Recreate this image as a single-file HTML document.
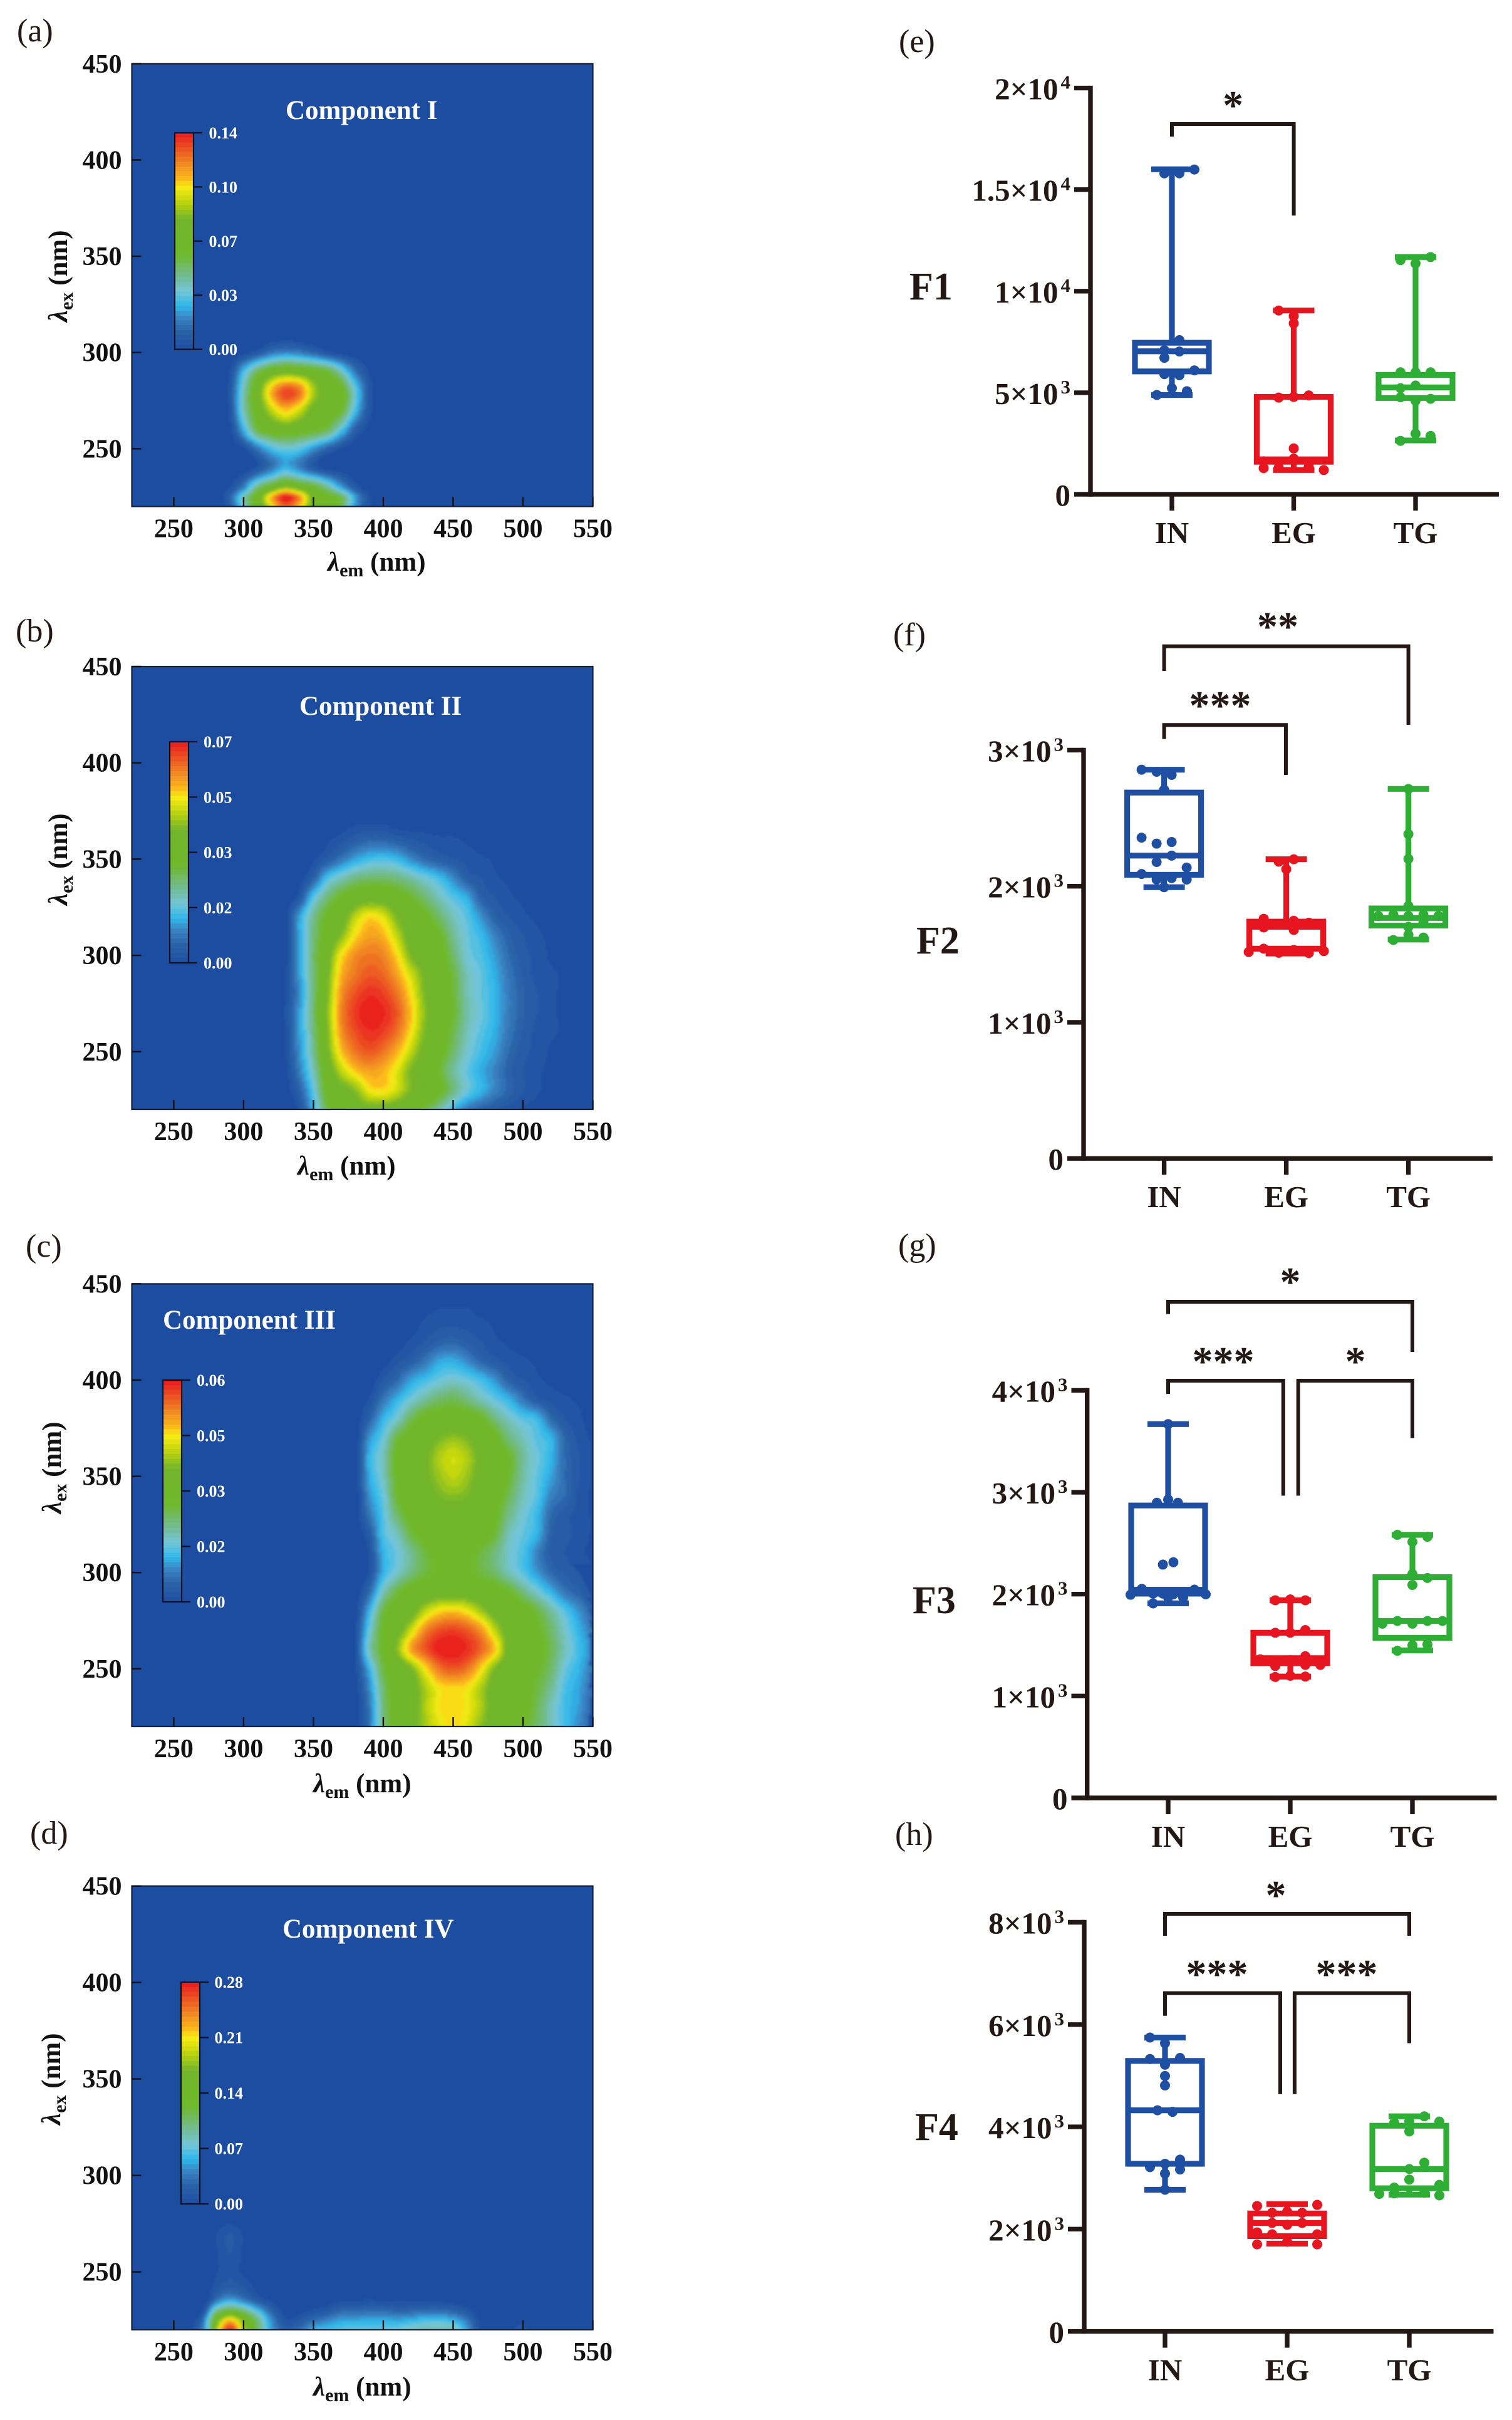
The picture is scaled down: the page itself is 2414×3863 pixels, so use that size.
<!DOCTYPE html>
<html lang="en">
<head>
<meta charset="utf-8">
<title>Fluorescence components and box plots</title>
<style>
html,body{margin:0;padding:0;background:#fff;}
svg{display:block;font-family:"Liberation Serif",serif;}
.plab{font-size:52px;fill:#231815;}
.ctitle{font-size:43px;font-weight:700;fill:#fff;}
.axt{font-size:43px;font-weight:700;fill:#111;}
.fl{font-size:62px;font-weight:700;fill:#231815;}
.star{font-size:66px;font-weight:700;fill:#231815;text-anchor:middle;}
.br{fill:none;stroke:#231815;stroke-width:6;}
</style>
</head>
<body>
<svg id="fig" xmlns="http://www.w3.org/2000/svg" width="2414" height="3863" viewBox="0 0 2414 3863">
<rect width="2414" height="3863" fill="#fff"/>

<text class="plab" x="27" y="66">(a)</text>
<text class="plab" x="25" y="1024">(b)</text>
<text class="plab" x="41" y="2006">(c)</text>
<text class="plab" x="48" y="2943">(d)</text>
<text class="plab" x="1435" y="83">(e)</text>
<text class="plab" x="1426" y="1030">(f)</text>
<text class="plab" x="1434" y="2005">(g)</text>
<text class="plab" x="1429" y="2945">(h)</text>

<g id="contourA"></g>
<g id="contourB"></g>
<g id="contourC"></g>
<g id="contourD"></g>

<text class="ctitle" x="456" y="190">Component I</text>
<text class="ctitle" x="478" y="1141">Component II</text>
<text class="ctitle" x="260" y="2121">Component III</text>
<text class="ctitle" x="451" y="3093">Component IV</text>

<text class="axt" x="523" y="911"><tspan font-style="italic">λ</tspan><tspan font-size="30" dy="9">em</tspan><tspan dy="-9"> (nm)</tspan></text>
<text class="axt" x="475" y="1875"><tspan font-style="italic">λ</tspan><tspan font-size="30" dy="9">em</tspan><tspan dy="-9"> (nm)</tspan></text>
<text class="axt" x="500" y="2861"><tspan font-style="italic">λ</tspan><tspan font-size="30" dy="9">em</tspan><tspan dy="-9"> (nm)</tspan></text>
<text class="axt" x="500" y="3824"><tspan font-style="italic">λ</tspan><tspan font-size="30" dy="9">em</tspan><tspan dy="-9"> (nm)</tspan></text>

<text class="axt" transform="translate(107 514) rotate(-90)"><tspan font-style="italic">λ</tspan><tspan font-size="30" dy="9">ex</tspan><tspan dy="-9"> (nm)</tspan></text>
<text class="axt" transform="translate(107 1445) rotate(-90)"><tspan font-style="italic">λ</tspan><tspan font-size="30" dy="9">ex</tspan><tspan dy="-9"> (nm)</tspan></text>
<text class="axt" transform="translate(97 2416) rotate(-90)"><tspan font-style="italic">λ</tspan><tspan font-size="30" dy="9">ex</tspan><tspan dy="-9"> (nm)</tspan></text>
<text class="axt" transform="translate(96 3392) rotate(-90)"><tspan font-style="italic">λ</tspan><tspan font-size="30" dy="9">ex</tspan><tspan dy="-9"> (nm)</tspan></text>

<g id="boxF1"></g>
<g id="boxF2"></g>
<g id="boxF3"></g>
<g id="boxF4"></g>

<text class="fl" x="1452" y="478">F1</text>
<text class="fl" x="1463" y="1522">F2</text>
<text class="fl" x="1457" y="2575">F3</text>
<text class="fl" x="1461" y="3416">F4</text>

<path class="br" d="M1871 218V198H2065.6V344"/>
<text class="star" x="1968.6" y="190">*</text>

<path class="br" d="M1858.6 1071V1031.6H2248.6V1157"/>
<path class="br" d="M1858.6 1179.6V1157.3H2053V1237"/>
<text class="star" x="2040" y="1022">**</text>
<text class="star" x="1948" y="1148">***</text>

<path class="br" d="M1865 2097.5V2078H2255V2158"/>
<path class="br" d="M1865 2225V2204H2048.8V2387.5"/>
<path class="br" d="M2072.7 2387.5V2204H2255V2295.6"/>
<text class="star" x="2060" y="2068">*</text>
<text class="star" x="1953" y="2195">***</text>
<text class="star" x="2164" y="2195">*</text>

<path class="br" d="M1860 3090V3055H2250V3090"/>
<path class="br" d="M1860 3217.7V3181.6H2044V3342.7"/>
<path class="br" d="M2066.9 3342.7V3181.6H2250V3261.5"/>
<text class="star" x="2037" y="3047">*</text>
<text class="star" x="1943" y="3173">***</text>
<text class="star" x="2150" y="3173">***</text>
</svg>

<script>
/* ---------- contour data: values are percent of each colour-bar maximum ---------- */
const emTicks = [250,300,350,400,450,500,550];
const exTicks = [250,300,350,400,450];

const cbarLabelsA = ['0.00','0.03','0.07','0.10','0.14'];
const cbarLabelsB = ['0.00','0.02','0.03','0.05','0.07'];
const cbarLabelsC = ['0.00','0.02','0.03','0.05','0.06'];
const cbarLabelsD = ['0.00','0.07','0.14','0.21','0.28'];

const emGridA = [220,280,290,300,310,320,330,340,350,360,370,380,390,400,550];
const exGridA = [220,225,230,240,250,260,270,280,290,300,310,450];
const valuesA = [
[0,0,5,28,50,72,88,78,55,48,40,16,3,0,0],
[0,0,8,30,52,80,100,85,56,48,40,18,3,0,0],
[0,0,2,14,36,50,62,54,46,34,18,5,0,0,0],
[0,0,0,0,4,12,20,14,6,1,0,0,0,0,0],
[0,0,0,2,12,22,26,24,16,8,2,0,0,0,0],
[0,0,1,20,42,50,53,50,46,40,24,7,1,0,0],
[0,0,3,30,50,68,78,70,56,50,44,22,4,0,0],
[0,0,4,30,54,80,94,88,66,54,48,26,5,0,0],
[0,0,2,22,40,52,57,55,50,44,30,12,2,0,0],
[0,0,0,1,5,12,15,13,9,4,1,0,0,0,0],
[0,0,0,0,0,0,0,0,0,0,0,0,0,0,0],
[0,0,0,0,0,0,0,0,0,0,0,0,0,0,0]];

const emGridB = [220,320,330,340,350,360,370,380,390,400,410,420,430,440,450,460,470,480,490,500,510,520,530,540,550];
const exGridB = [220,230,240,250,260,270,280,290,300,310,320,330,340,350,360,370,450];
const valuesB = [
[0,0,0,3,20,42,50,54,56,55,52,50,42,32,20,12,8,5,3,2,1,0,0,0,0],
[0,0,1,8,25,48,56,62,74,76,70,60,55,47,36,26,20,14,9,5,3,1,0,0,0],
[0,0,1,13,30,52,68,78,82,80,72,60,54,44,33,25,19,14,8,5,3,2,1,0,0],
[0,0,2,16,34,58,78,88,92,88,80,68,56,48,38,28,22,17,10,6,4,2,1,1,0],
[0,0,2,17,36,60,84,93,97,95,88,75,60,51,41,30,24,19,12,7,4,3,2,1,0],
[0,0,3,17,38,62,86,96,100,98,92,78,62,52,44,32,26,20,13,8,5,3,2,1,0],
[0,0,2,16,37,60,84,93,97,95,88,75,60,52,43,31,25,20,13,8,5,3,2,1,0],
[0,0,2,17,37,58,80,88,92,90,82,70,58,50,42,30,25,19,12,7,4,3,2,1,0],
[0,0,1,18,38,55,75,85,88,86,76,60,54,49,38,27,23,17,10,6,4,2,1,1,0],
[0,0,1,19,36,50,62,76,82,80,68,55,52,46,34,26,21,14,8,5,3,2,1,0,0],
[0,0,1,18,34,46,54,68,76,72,60,53,47,38,30,24,16,8,5,3,2,1,0,0,0],
[0,0,0,5,24,37,46,52,55,54,50,44,37,30,24,19,8,5,3,2,1,1,0,0,0],
[0,0,0,1,8,23,30,36,38,38,36,32,27,22,15,7,5,3,2,1,1,0,0,0,0],
[0,0,0,0,2,6,12,18,22,23,21,15,10,7,5,4,3,2,1,1,0,0,0,0,0],
[0,0,0,0,0,2,4,7,9,9,7,5,4,3,3,2,1,1,0,0,0,0,0,0,0],
[0,0,0,0,0,0,1,2,2,2,1,1,1,1,0,0,0,0,0,0,0,0,0,0,0],
[0,0,0,0,0,0,0,0,0,0,0,0,0,0,0,0,0,0,0,0,0,0,0,0,0]];

const emGridC = [220,370,380,390,400,410,420,430,440,450,460,470,480,490,500,510,520,530,540,550];
const exGridC = [220,230,240,250,260,270,280,290,300,310,320,330,340,350,360,370,380,390,400,410,420,430,440,450];
const valuesC = [
[0,0,0,12,36,50,55,65,72,76,72,62,55,50,45,38,30,22,15,8],
[0,0,0,12,36,50,55,66,75,77,74,66,55,52,48,40,30,22,17,8],
[0,0,1,15,38,50,55,66,75,77,75,66,55,52,48,42,34,23,18,10],
[0,0,2,20,42,50,60,75,88,92,88,76,60,52,50,45,38,26,20,12],
[0,0,3,30,46,62,82,92,99,100,97,90,78,56,52,48,40,30,22,14],
[0,0,2,26,46,55,70,86,93,95,92,84,68,55,52,46,38,28,20,12],
[0,0,1,20,42,50,55,68,76,78,74,65,56,52,50,42,33,24,16,8],
[0,0,0,10,30,42,50,52,54,55,54,52,50,45,36,28,20,12,8,4],
[0,0,0,3,20,28,36,42,46,48,46,42,38,30,24,17,10,7,5,3],
[0,0,0,3,20,26,34,42,47,50,47,42,36,28,23,14,7,5,3,2],
[0,0,0,6,23,30,42,48,51,52,51,48,43,30,25,20,8,6,4,2],
[0,0,0,12,24,38,47,50,53,54,53,50,46,35,27,21,10,6,4,2],
[0,0,0,16,26,44,50,53,60,62,60,52,48,40,30,24,14,10,4,2],
[0,0,0,19,29,46,52,58,64,68,64,56,50,44,32,25,18,10,5,2],
[0,0,0,20,30,47,53,58,66,70,66,57,50,45,33,26,20,10,5,2],
[0,0,0,16,26,42,50,54,60,63,60,53,47,36,30,24,20,9,4,2],
[0,0,0,8,20,28,40,48,50,50,50,46,36,29,24,21,10,5,3,1],
[0,0,0,3,12,20,27,33,38,40,36,30,25,20,12,6,4,3,2,1],
[0,0,0,0,5,10,18,22,26,28,26,22,16,8,5,3,2,1,0,0],
[0,0,0,0,1,4,7,12,18,19,15,9,6,4,3,2,1,0,0,0],
[0,0,0,0,0,1,3,5,8,9,7,5,3,2,1,0,0,0,0,0],
[0,0,0,0,0,0,1,3,4,4,4,3,2,1,0,0,0,0,0,0],
[0,0,0,0,0,0,0,1,2,2,2,1,1,0,0,0,0,0,0,0],
[0,0,0,0,0,0,0,0,0,0,0,0,0,0,0,0,0,0,0,0]];

const emGridD = [220,260,270,275,280,290,300,310,320,330,340,350,360,370,380,390,400,410,420,430,440,450,460,470,480,490,500,510,550];
const exGridD = [220,225,230,235,240,250,260,270,280,450];
const valuesD = [
[0,0,12,30,62,100,66,40,18,6,10,20,22,24,25,25,25,27,30,32,33,32,18,1,0,2,3,1,0],
[0,0,8,28,52,78,58,36,15,3,5,10,14,18,18,19,19,18,20,22,22,20,12,1,0,1,2,0,0],
[0,0,1,14,32,44,36,22,8,1,1,3,5,9,9,10,10,8,9,10,10,8,4,0,0,0,0,0,0],
[0,0,0,3,12,20,14,6,2,0,0,0,1,2,2,3,2,2,2,2,2,1,0,0,0,0,0,0,0],
[0,0,0,1,5,9,6,2,0,0,0,0,0,0,0,0,0,0,0,0,0,0,0,0,0,0,0,0,0],
[0,0,0,0,2,4,2,1,0,0,0,0,0,0,0,0,0,0,0,0,0,0,0,0,0,0,0,0,0],
[0,0,0,0,2,5,2,0,0,0,0,0,0,0,0,0,0,0,0,0,0,0,0,0,0,0,0,0,0],
[0,0,0,0,2,5,2,0,0,0,0,0,0,0,0,0,0,0,0,0,0,0,0,0,0,0,0,0,0],
[0,0,0,0,0,0,0,0,0,0,0,0,0,0,0,0,0,0,0,0,0,0,0,0,0,0,0,0,0],
[0,0,0,0,0,0,0,0,0,0,0,0,0,0,0,0,0,0,0,0,0,0,0,0,0,0,0,0,0]];

/* ---------- box-plot data ---------- */
const categories = ['IN','EG','TG'];

const f1Ticks = [0,5000,10000,15000,20000];
const f1TickMant = ['0','5×10','1×10','1.5×10','2×10'];
const f1TickExp = ['','3','4','4','4'];
const f1InBox = [4890,6050,7040,7460,16000];
const f1EgBox = [1194,1600,1720,4795,9050];
const f1TgBox = [2650,4740,5262,5878,11680];
const f1InDots = [15990,15800,15800,7590,7090,7030,6720,5915,5860,6100,5225,5075,4890];
const f1InCols = [3,-1,1,1,-1,1,-1,-1,1,3,0,2,-2];
const f1EgDots = [9050,8770,8415,4760,4795,4870,2258,1623,1754,1343,1306,1287,1194];
const f1EgCols = [-2,0,0,-2,0,2,0,-4,0,2,-2,-4,4];
const f1TgDots = [11680,11530,11364,6008,6008,6008,5225,5355,4777,4700,4609,2985,2874,2631];
const f1TgCols = [2,-2,0,-2,0,2,-2,0,-2,2,0,0,2,-2];

const f2Ticks = [0,1000,2000,3000];
const f2TickMant = ['0','1×10','2×10','3×10'];
const f2TickExp = ['','3','3','3'];
const f2InBox = [1993,2084,2225,2688,2856];
const f2EgBox = [1506,1541,1702,1740,2198];
const f2TgBox = [1608,1711,1767,1837,2715];
const f2InDots = [2856,2841,2818,2709,2357,2313,2325,2225,2178,2137,2090,2049,2060,2049,1993];
const f2InCols = [-3,-1,1,0,-3,-1,1,1,-1,3,-3,-1,1,3,0];
const f2EgDots = [2181,2198,2125,1761,1697,1746,1679,1732,1517,1541,1511,1532,1509,1523];
const f2EgCols = [-1,1,0,-3,-3,1,1,3,-5,-3,-1,1,3,5];
const f2TgDots = [2715,2383,2201,1855,1781,1790,1781,1790,1781,1738,1702,1623,1644,1605];
const f2TgCols = [0,0,0,0,-4,-2,0,2,4,2,0,2,0,-2];

const f3Ticks = [0,1000,2000,3000,4000];
const f3TickMant = ['0','1×10','2×10','3×10','4×10'];
const f3TickExp = ['','3','3','3','3'];
const f3InBox = [1910,2005,2044,2870,3669];
const f3EgBox = [1191,1322,1372,1621,1940];
const f3TgBox = [1448,1571,1737,2167,2582];
const f3InDots = [3669,2897,2928,2897,2313,2290,1994,2052,2005,2005,1998,1967,2044,1998,1909,1967];
const f3InCols = [0,-1.5,0,1.3,0.7,-0.7,-5,-3.5,-2,-0.7,0.7,2,3.5,5,-2,0];
const f3EgDots = [1940,1948,1940,1621,1621,1648,1360,1352,1391,1295,1306,1306,1187,1199,1191];
const f3EgCols = [-2,0,2,-2,0,2,-4,0,2,-2,2,4,-2,0,2];
const f3TgDots = [2582,2563,2513,2198,2159,2090,1710,1737,1710,1737,1737,1498,1506,1444];
const f3TgCols = [-2,2,0,0,2,0,-4,-2,0,2,4,0,2,-2];

const f4Ticks = [0,2000,4000,6000,8000];
const f4TickMant = ['0','2×10','4×10','6×10','8×10'];
const f4TickExp = ['','3','3','3','3'];
const f4InBox = [2770,3278,4324,5289,5746];
const f4EgBox = [1716,1864,2121,2306,2490];
const f4TgBox = [2674,2799,3175,4022,4206];
const f4InDots = [5746,5635,5326,5348,5215,4994,4810,4324,4294,3359,3278,3212,3167,3086,2770];
const f4InCols = [-2,0,-2,2,0,0,0,-1,1,2,0,-2,2,0,0];
const f4EgDots = [2453,2475,2320,2342,2320,2085,2121,2121,1937,1900,1900,1702,1702,1753];
const f4EgCols = [-4,4,-2,0,2,0,2,-2,-4,-2,4,-4,4,0];
const f4TgDots = [4080,4110,4206,4103,3911,3300,3175,2969,2814,2866,2689,2711,2700,2660];
const f4TgCols = [-2,0,2,4,0,2,0,0,-2,4,-4,2,-2,4];

/* ---------- shared helpers ---------- */
const NS = 'http://www.w3.org/2000/svg';
function make(parent, tag, attrs, text) {
  const n = document.createElementNS(NS, tag);
  for (const k in attrs) n.setAttribute(k, attrs[k]);
  if (text !== undefined) n.textContent = text;
  parent.appendChild(n);
  return n;
}

/* colormap: fraction of the colour bar -> colour */
const cmapPos = [0,0.084,0.15,0.2,0.267,0.354,0.44,0.6,0.68,0.75,0.79,0.855,1];
const cmapRgb = [[31,78,161],[42,98,168],[60,134,196],[44,184,236],[116,198,216],[114,186,131],[111,185,43],[114,181,44],[190,212,14],[249,236,20],[251,184,26],[240,138,36],[232,25,31]];
function cmap(f) {
  let i = 0;
  while (i < cmapPos.length - 2 && f > cmapPos[i + 1]) i++;
  const t = Math.min(1, Math.max(0, (f - cmapPos[i]) / (cmapPos[i + 1] - cmapPos[i])));
  const c = cmapRgb[i].map((a, k) => Math.round(a + (cmapRgb[i + 1][k] - a) * t));
  return 'rgb(' + c.join(',') + ')';
}

function hermite(xs, ys, x) {
  const n = xs.length;
  if (x <= xs[0]) return ys[0];
  if (x >= xs[n - 1]) return ys[n - 1];
  let i = 0;
  while (x > xs[i + 1]) i++;
  const h = xs[i + 1] - xs[i], t = (x - xs[i]) / h;
  const m0 = i === 0 ? (ys[1] - ys[0]) / h : (ys[i + 1] - ys[i - 1]) / (xs[i + 1] - xs[i - 1]);
  const m1 = i === n - 2 ? (ys[i + 1] - ys[i]) / h : (ys[i + 2] - ys[i]) / (xs[i + 2] - xs[i]);
  const t2 = t * t, t3 = t2 * t;
  return (2 * t3 - 3 * t2 + 1) * ys[i] + (t3 - 2 * t2 + t) * h * m0 + (-2 * t3 + 3 * t2) * ys[i + 1] + (t3 - t2) * h * m1;
}

/* ---------- contour panels ---------- */
const LEVELS = 40;
const CELL = 3;
const DOMAIN_EM = [220, 550];
const DOMAIN_EX = [220, 450];

function drawContour(id, box, bar, emGrid, exGrid, values, cbarLabels) {
  const g = document.getElementById(id);
  const xs = v => box.x + (v - DOMAIN_EM[0]) / (DOMAIN_EM[1] - DOMAIN_EM[0]) * box.w;
  const ys = v => box.y + box.h - (v - DOMAIN_EX[0]) / (DOMAIN_EX[1] - DOMAIN_EX[0]) * box.h;
  const emOf = px => DOMAIN_EM[0] + (px - box.x) / box.w * (DOMAIN_EM[1] - DOMAIN_EM[0]);
  const exOf = py => DOMAIN_EX[0] + (box.y + box.h - py) / box.h * (DOMAIN_EX[1] - DOMAIN_EX[0]);

  const defs = make(g, 'defs', {});
  const clip = make(defs, 'clipPath', {id: id + 'Clip'});
  make(clip, 'rect', {x: box.x, y: box.y, width: box.w, height: box.h});
  const filt = make(defs, 'filter', {id: id + 'Blur', filterUnits: 'userSpaceOnUse', x: box.x - 12, y: box.y - 12, width: box.w + 24, height: box.h + 24});
  make(filt, 'feGaussianBlur', {stdDeviation: 2.2});

  const clipGroup = make(g, 'g', {'clip-path': 'url(#' + id + 'Clip)'});
  
  
  const heat = make(clipGroup, 'g', {filter: 'url(#' + id + 'Blur)', 'shape-rendering': 'crispEdges'});
  const bg = make(heat, 'rect', {x: box.x - 12, y: box.y - 12, width: box.w + 24, height: box.h + 24, fill: cmap(0)});
  
  

  const bands = new Array(LEVELS).fill('');
  for (let py = box.y - 9; py < box.y + box.h + 9; py += CELL) {
    const ex = exOf(py + CELL / 2);
    const column = emGrid.map((_, c) => hermite(exGrid, values.map(r => r[c]), ex));
    let runStart = null, runLevel = 0;
    for (let px = box.x - 9; px <= box.x + box.w + 9; px += CELL) {
      const inside = px < box.x + box.w + 9;
      const v = inside ? Math.max(0, hermite(emGrid, column, emOf(px + CELL / 2))) : 0;
      const level = inside ? Math.min(LEVELS - 1, Math.floor(v / 100 * LEVELS)) : 0;
      if (level !== runLevel) {
        if (runLevel > 0) bands[runLevel] += 'M' + runStart.toFixed(1) + ' ' + py.toFixed(1) + 'h' + (px - runStart).toFixed(0) + 'v' + CELL + 'h-' + (px - runStart).toFixed(0) + 'z';
        runStart = px;
        runLevel = level;
      }
    }
  }
  bands.forEach((d, i) => {
    if (!d) return;
    const band = make(heat, 'path', {d: d, fill: cmap((i + 0.5) / LEVELS)});
    
    
  });

  const frame = make(g, 'rect', {x: box.x, y: box.y, width: box.w, height: box.h, fill: 'none', stroke: '#14213d', 'stroke-width': 2.2});
  
  

  emTicks.forEach(t => {
    const tick = make(g, 'line', {x1: xs(t), x2: xs(t), y1: box.y + box.h, y2: box.y + box.h - 15, stroke: '#111', 'stroke-width': 2.4});
    
    
    const label = make(g, 'text', {x: xs(t), y: box.y + box.h + 49, 'text-anchor': 'middle', 'font-size': 42, 'font-weight': 700, fill: '#111'}, String(t));
    
    
  });
  exTicks.forEach(t => {
    const tick = make(g, 'line', {x1: box.x, x2: box.x + 15, y1: ys(t), y2: ys(t), stroke: '#111', 'stroke-width': 2.4});
    
    
    const label = make(g, 'text', {x: box.x - 16, y: ys(t) + 14, 'text-anchor': 'end', 'font-size': 42, 'font-weight': 700, fill: '#111'}, String(t));
    
    
  });

  /* colour bar */
  const cb = make(g, 'g', {});
  
  
  const barBands = make(cb, 'g', {'shape-rendering': 'crispEdges'});
  for (let i = 0; i < 45; i++) {
    const top = bar.y + bar.h * i / 45;
    const swatch = make(barBands, 'rect', {x: bar.x, y: top, width: bar.w, height: bar.h / 45 + 0.6, fill: cmap(1 - (i + 0.5) / 45)});
    
    
  }
  const barFrame = make(cb, 'rect', {x: bar.x, y: bar.y, width: bar.w, height: bar.h, fill: 'none', stroke: '#0c1020', 'stroke-width': 2.2});
  
  
  cbarLabels.forEach((txt, i) => {
    const y = bar.y + bar.h - bar.h * i / (cbarLabels.length - 1);
    const tick = make(cb, 'line', {x1: bar.x + bar.w, x2: bar.x + bar.w + 14, y1: y, y2: y, stroke: '#0c1020', 'stroke-width': 2.2});
    
    
    const label = make(cb, 'text', {x: bar.labelX, y: y + 9, 'font-size': 26, 'font-weight': 700, fill: '#fff'}, txt);
    
    
  });
}

drawContour('contourA', {x:210.5,y:101.8,w:736,h:706.7}, {x:279,y:212,w:30,h:345.6,labelX:333.5}, emGridA, exGridA, valuesA, cbarLabelsA);
drawContour('contourB', {x:210.5,y:1064,w:736,h:707}, {x:271,y:1184,w:30,h:353,labelX:325}, emGridB, exGridB, valuesB, cbarLabelsB);
drawContour('contourC', {x:210.5,y:2049.4,w:736,h:706.6}, {x:260,y:2203,w:30,h:354,labelX:314}, emGridC, exGridC, valuesC, cbarLabelsC);
drawContour('contourD', {x:210.5,y:3010.6,w:736,h:708.4}, {x:289,y:3164,w:30,h:354,labelX:342.5}, emGridD, exGridD, valuesD, cbarLabelsD);

/* ---------- box panels ---------- */
const INK = '#231815';
const GROUP_COLORS = ['#1f4fa3','#e71520','#2fae36'];
const BOX_HALF = 59;
const CAP_HALF = 33;
const COL_STEP = 12;
const DOT_R = 8;

function drawBoxGroup(parent, x, yScale, color, stats, dots, cols) {
  const g = make(parent, 'g', {});
  
  
  const [lo, q1, med, q3, hi] = stats;
  const sw = 9.2;
  const whiskerUp = make(g, 'line', {x1: x, x2: x, y1: yScale(q3), y2: yScale(hi), stroke: color, 'stroke-width': sw});
  
  
  const whiskerDown = make(g, 'line', {x1: x, x2: x, y1: yScale(q1), y2: yScale(lo), stroke: color, 'stroke-width': sw});
  
  
  const capUp = make(g, 'line', {x1: x - CAP_HALF, x2: x + CAP_HALF, y1: yScale(hi), y2: yScale(hi), stroke: color, 'stroke-width': sw});
  
  
  const capDown = make(g, 'line', {x1: x - CAP_HALF, x2: x + CAP_HALF, y1: yScale(lo), y2: yScale(lo), stroke: color, 'stroke-width': sw});
  
  
  const rect = make(g, 'rect', {x: x - BOX_HALF, y: yScale(q3), width: BOX_HALF * 2, height: yScale(q1) - yScale(q3), fill: '#fff', stroke: color, 'stroke-width': sw});
  
  
  const medLine = make(g, 'line', {x1: x - BOX_HALF, x2: x + BOX_HALF, y1: yScale(med), y2: yScale(med), stroke: color, 'stroke-width': sw});
  
  
  dots.forEach((v, i) => {
    const dot = make(g, 'circle', {cx: x + cols[i] * COL_STEP, cy: yScale(v), r: DOT_R, fill: color});
    
    
  });
}

function drawBoxPanel(id, geo, ticks, mant, exps, boxes, dots, cols) {
  const g = document.getElementById(id);
  const yMax = ticks[ticks.length - 1];
  const yScale = v => geo.bottom - v / yMax * (geo.bottom - geo.top);
  const xScale = i => geo.c0 + i * geo.step;
  const sw = 7.4;

  const yAxis = make(g, 'line', {x1: geo.axisX, x2: geo.axisX, y1: geo.top - sw / 2, y2: geo.bottom + sw / 2, stroke: INK, 'stroke-width': sw});
  
  
  const xAxis = make(g, 'line', {x1: geo.tickLeft, x2: geo.xEnd, y1: geo.bottom, y2: geo.bottom, stroke: INK, 'stroke-width': sw});
  
  

  ticks.forEach((t, i) => {
    const y = yScale(t);
    if (t !== 0) {
      const tick = make(g, 'line', {x1: geo.tickLeft, x2: geo.axisX, y1: y, y2: y, stroke: INK, 'stroke-width': sw});
      
      
    }
    const label = make(g, 'text', {x: geo.tickLeft - 6, y: y + 18, 'text-anchor': 'end', 'font-size': 49, 'font-weight': 700, fill: INK});
    
    
    make(label, 'tspan', {}, mant[i]);
    if (exps[i]) make(label, 'tspan', {dx: 4, dy: -17, 'font-size': 31}, exps[i]);
  });

  categories.forEach((name, i) => {
    const x = xScale(i);
    const tick = make(g, 'line', {x1: x, x2: x, y1: geo.bottom, y2: geo.bottom + 26, stroke: INK, 'stroke-width': sw});
    
    
    const label = make(g, 'text', {x: x, y: geo.bottom + 78, 'text-anchor': 'middle', 'font-size': 49, 'font-weight': 700, fill: INK}, name);
    
    
    drawBoxGroup(g, x, yScale, GROUP_COLORS[i], boxes[i], dots[i], cols[i]);
  });
}

drawBoxPanel('boxF1', {axisX:1741,tickLeft:1715,xEnd:2393,top:140.6,bottom:789,c0:1871,step:194.5},
  f1Ticks, f1TickMant, f1TickExp, [f1InBox,f1EgBox,f1TgBox], [f1InDots,f1EgDots,f1TgDots], [f1InCols,f1EgCols,f1TgCols]);
drawBoxPanel('boxF2', {axisX:1730,tickLeft:1704,xEnd:2383,top:1197.4,bottom:1849.2,c0:1858.6,step:195},
  f2Ticks, f2TickMant, f2TickExp, [f2InBox,f2EgBox,f2TgBox], [f2InDots,f2EgDots,f2TgDots], [f2InCols,f2EgCols,f2TgCols]);
drawBoxPanel('boxF3', {axisX:1735.7,tickLeft:1710.5,xEnd:2389.6,top:2219.4,bottom:2870,c0:1865,step:195},
  f3Ticks, f3TickMant, f3TickExp, [f3InBox,f3EgBox,f3TgBox], [f3InDots,f3EgDots,f3TgDots], [f3InCols,f3EgCols,f3TgCols]);
drawBoxPanel('boxF4', {axisX:1731,tickLeft:1705,xEnd:2384.5,top:3068.5,bottom:3721.6,c0:1860,step:195},
  f4Ticks, f4TickMant, f4TickExp, [f4InBox,f4EgBox,f4TgBox], [f4InDots,f4EgDots,f4TgDots], [f4InCols,f4EgCols,f4TgCols]);
</script>
</body>
</html>
